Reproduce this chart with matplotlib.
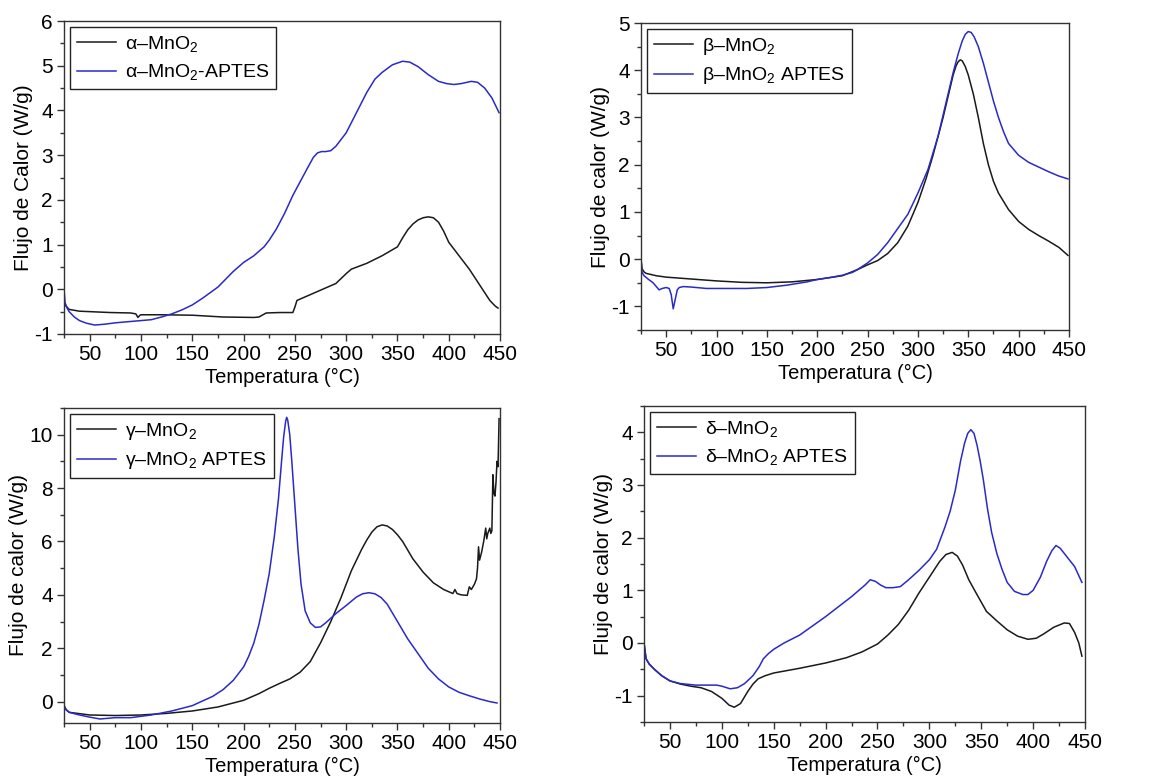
"""
DSC de MnO2 (alfa, beta, gamma, delta) con y sin APTES
"""
import matplotlib
matplotlib.use('Agg')
import matplotlib.pyplot as plt
from matplotlib.ticker import MultipleLocator

plt.rcParams['font.family'] = ['Liberation Sans', 'DejaVu Sans']
plt.rcParams['axes.unicode_minus'] = False
plt.rcParams['mathtext.fontset'] = 'custom'
plt.rcParams['mathtext.rm'] = 'Liberation Sans'
plt.rcParams['mathtext.it'] = 'Liberation Sans:italic'

NEGRO, AZUL = '#1a1a1a', '#2a2ac8'

# ---- alfa ----
alfa_x = [25, 27, 30, 40, 50, 70, 90, 95, 97, 99, 100, 120, 150, 180, 210, 215, 222, 235, 248,
          250, 252, 260, 270, 280, 290, 300, 305, 320, 335, 350, 355, 360, 365, 370, 375, 380,
          385, 390, 395, 400, 410, 420, 430, 440, 445, 448]
alfa_y = [-0.3, -0.38, -0.45, -0.49, -0.5, -0.52, -0.53, -0.55, -0.63, -0.58, -0.57, -0.57,
          -0.58, -0.62, -0.63, -0.62, -0.53, -0.52, -0.52, -0.4, -0.25, -0.17, -0.07, 0.03,
          0.13, 0.35, 0.45, 0.58, 0.75, 0.95, 1.15, 1.33, 1.46, 1.55, 1.6, 1.62, 1.6, 1.5,
          1.3, 1.05, 0.75, 0.45, 0.1, -0.25, -0.37, -0.42]
alfa_ap_x = [25, 26, 28, 30, 35, 40, 47, 55, 65, 75, 90, 100, 110, 120, 130, 140, 150, 160,
             175, 190, 200, 210, 220, 225, 232, 240, 248, 255, 262, 268, 272, 276, 280, 285,
             290, 300, 310, 320, 328, 335, 345, 355, 362, 370, 380, 390, 398, 405, 412, 422,
             428, 435, 442, 449]
alfa_ap_y = [0.0, -0.3, -0.42, -0.5, -0.62, -0.7, -0.76, -0.8, -0.78, -0.75, -0.72, -0.7,
             -0.68, -0.62, -0.55, -0.46, -0.35, -0.2, 0.05, 0.4, 0.6, 0.75, 0.95, 1.1, 1.35,
             1.7, 2.1, 2.4, 2.7, 2.95, 3.05, 3.08, 3.08, 3.1, 3.2, 3.5, 3.95, 4.4, 4.7, 4.85,
             5.02, 5.1, 5.08, 4.98, 4.8, 4.65, 4.6, 4.58, 4.6, 4.65, 4.63, 4.5, 4.28, 3.95]

# ---- beta ----
beta_x = [25, 26, 28, 30, 40, 50, 75, 100, 125, 150, 175, 200, 225, 240, 250, 260, 270, 280,
          290, 300, 308, 315, 320, 325, 330, 335, 338, 340, 342, 344, 347, 350, 355, 360, 365,
          370, 375, 380, 390, 400, 410, 420, 430, 440, 449]
beta_y = [0.0, -0.2, -0.27, -0.3, -0.35, -0.38, -0.42, -0.46, -0.49, -0.5, -0.48, -0.43,
          -0.35, -0.22, -0.12, -0.03, 0.12, 0.35, 0.7, 1.2, 1.7, 2.2, 2.6, 3.0, 3.45, 3.9,
          4.1, 4.18, 4.22, 4.2, 4.08, 3.9, 3.5, 3.0, 2.45, 2.0, 1.65, 1.4, 1.05, 0.8, 0.63,
          0.5, 0.38, 0.25, 0.08]
beta_ap_x = [25, 26, 28, 32, 37, 41, 43, 46, 50, 53, 55, 57, 59, 61, 63, 67, 75, 90, 110,
             130, 150, 170, 190, 200, 215, 225, 235, 240, 250, 260, 270, 280, 290, 300, 310,
             320, 330, 335, 340, 344, 347, 350, 353, 356, 360, 365, 370, 375, 380, 385, 390,
             400, 410, 420, 430, 440, 449]
beta_ap_y = [0.0, -0.28, -0.35, -0.42, -0.5, -0.6, -0.65, -0.62, -0.6, -0.62, -0.75, -1.05,
             -0.85, -0.65, -0.6, -0.58, -0.59, -0.62, -0.62, -0.62, -0.6, -0.55, -0.48, -0.43,
             -0.38, -0.34, -0.28, -0.22, -0.08, 0.1, 0.35, 0.65, 0.95, 1.4, 1.9, 2.6, 3.5, 3.95,
             4.35, 4.62, 4.76, 4.82, 4.8, 4.7, 4.5, 4.15, 3.75, 3.35, 3.0, 2.7, 2.45, 2.2, 2.05,
             1.95, 1.85, 1.76, 1.7]

# ---- gamma ----
gamma_x = [25, 27, 30, 40, 50, 75, 100, 125, 150, 175, 200, 215, 225, 235, 245, 255, 265,
           275, 285, 295, 305, 315, 320, 325, 330, 335, 340, 345, 350, 355, 365, 375, 385,
           395, 404, 406, 408, 412, 418, 420, 422, 425, 427, 428, 429, 430, 432, 434, 436,
           437, 438, 440, 441, 442, 443, 444, 445, 446, 447, 448, 449]
gamma_y = [-0.15, -0.3, -0.4, -0.45, -0.5, -0.52, -0.5, -0.44, -0.35, -0.2, 0.05, 0.3, 0.5,
           0.68, 0.85, 1.1, 1.5, 2.2, 3.0, 3.9, 4.9, 5.7, 6.05, 6.35, 6.55, 6.62, 6.58, 6.45,
           6.25, 6.0, 5.35, 4.85, 4.45, 4.2, 4.05, 4.2, 4.05, 4.0, 3.98, 4.3, 4.2, 4.4, 4.6,
           5.0, 5.8, 5.3, 5.6, 6.0, 6.5, 6.1, 6.3, 6.5, 6.3, 6.4, 8.5, 7.8, 7.7, 8.2, 9.0, 8.8,
           10.6]
gamma_ap_x = [25, 27, 30, 40, 50, 60, 75, 90, 110, 130, 150, 170, 180, 190, 200, 205, 210,
              215, 220, 225, 230, 234, 237, 239, 241, 242, 243, 245, 247, 249, 251, 253, 256,
              260, 265, 270, 275, 280, 290, 300, 310, 316, 322, 328, 334, 340, 350, 360, 370,
              380, 390, 400, 410, 420, 430, 440, 447]
gamma_ap_y = [-0.15, -0.3, -0.4, -0.5, -0.58, -0.65, -0.6, -0.6, -0.5, -0.35, -0.15, 0.2,
              0.45, 0.8, 1.3, 1.7, 2.2, 2.9, 3.8, 4.8, 6.2, 7.6, 9.0, 9.9, 10.5, 10.65, 10.55,
              10.0, 9.0, 7.9, 6.8, 5.7, 4.4, 3.4, 2.95, 2.78, 2.8, 2.95, 3.3, 3.6, 3.92, 4.04,
              4.08, 4.04, 3.9, 3.65, 3.0, 2.35, 1.8, 1.25, 0.85, 0.55, 0.35, 0.22, 0.1, 0.0,
              -0.05]

# ---- delta ----
delta_x = [25, 27, 30, 35, 42, 50, 60, 70, 80, 90, 100, 107, 112, 118, 125, 130, 135, 142,
           150, 175, 200, 220, 235, 250, 260, 270, 280, 290, 300, 310, 316, 322, 327, 332,
           338, 345, 355, 365, 375, 385, 395, 403, 410, 420, 430, 435, 440, 444, 447]
delta_y = [0.0, -0.3, -0.4, -0.5, -0.62, -0.72, -0.78, -0.82, -0.85, -0.92, -1.05, -1.18,
           -1.22, -1.15, -0.92, -0.78, -0.68, -0.62, -0.57, -0.48, -0.38, -0.28, -0.17, -0.02,
           0.15, 0.35, 0.62, 0.95, 1.25, 1.55, 1.68, 1.72, 1.65, 1.48, 1.2, 0.95, 0.6, 0.42,
           0.25, 0.13, 0.07, 0.09, 0.17, 0.3, 0.38, 0.37, 0.2, 0.0, -0.25]
delta_ap_x = [25, 27, 30, 35, 42, 50, 60, 75, 85, 95, 100, 108, 115, 122, 130, 136, 140,
              145, 150, 160, 175, 200, 225, 238, 243, 248, 253, 258, 265, 272, 280, 290, 300,
              307, 315, 320, 325, 330, 334, 337, 340, 343, 346, 349, 352, 356, 360, 365, 370,
              375, 382, 390, 395, 400, 407, 413, 418, 422, 426, 432, 440, 447]
delta_ap_y = [0.0, -0.3, -0.4, -0.5, -0.62, -0.72, -0.77, -0.8, -0.8, -0.8, -0.82, -0.87,
              -0.85, -0.77, -0.62, -0.45, -0.3, -0.2, -0.12, 0.0, 0.15, 0.5, 0.88, 1.1, 1.2,
              1.17, 1.1, 1.05, 1.05, 1.07, 1.2, 1.38, 1.58, 1.78, 2.2, 2.5, 2.9, 3.45, 3.8, 3.98,
              4.05, 3.98, 3.75, 3.45, 3.1, 2.55, 2.1, 1.7, 1.4, 1.15, 0.98, 0.92, 0.92, 1.0,
              1.25, 1.55, 1.75, 1.85, 1.8, 1.65, 1.45, 1.15]

paneles = [
    # (pos, x1, y1, x2, y2, etiqueta1, etiqueta2, ylabel, ylim, major, minor)
    ([0.0554, 0.5707, 0.3772, 0.4023], alfa_x, alfa_y, alfa_ap_x, alfa_ap_y,
     'α–MnO$_2$', 'α–MnO$_2$-APTES', 'Flujo de Calor (W/g)', (-1, 6), 1, 0.5),
    ([0.5545, 0.5758, 0.3702, 0.3946], beta_x, beta_y, beta_ap_x, beta_ap_y,
     'β–MnO$_2$', 'β–MnO$_2$ APTES', 'Flujo de calor (W/g)', (-1.5, 5), 1, 0.5),
    ([0.0554, 0.0707, 0.3772, 0.4049], gamma_x, gamma_y, gamma_ap_x, gamma_ap_y,
     'γ–MnO$_2$', 'γ–MnO$_2$ APTES', 'Flujo de calor (W/g)', (-0.8, 11), 2, 1),
    ([0.5571, 0.0720, 0.3815, 0.4062], delta_x, delta_y, delta_ap_x, delta_ap_y,
     'δ–MnO$_2$', 'δ–MnO$_2$ APTES', 'Flujo de calor (W/g)', (-1.5, 4.5), 1, 0.5),
]

fig = plt.figure(figsize=(11.56, 7.78), dpi=100, facecolor='white')

for pos, x1, y1, x2, y2, lab1, lab2, ylab, ylim, mayor, menor in paneles:
    ax = fig.add_axes(pos)
    ax.plot(x1, y1, color=NEGRO, linewidth=1.1, label=lab1)
    ax.plot(x2, y2, color=AZUL, linewidth=1.1, label=lab2)
    ax.set_xlim(25, 450)
    ax.set_ylim(*ylim)
    ax.xaxis.set_major_locator(MultipleLocator(50))
    ax.xaxis.set_minor_locator(MultipleLocator(25))
    ax.yaxis.set_major_locator(MultipleLocator(mayor))
    ax.yaxis.set_minor_locator(MultipleLocator(menor))
    ax.tick_params(which='major', direction='out', length=5, width=1, labelsize=15,
                   color='#333333', pad=3)
    ax.tick_params(which='minor', direction='out', length=3, width=1, color='#333333')
    for sp in ax.spines.values():
        sp.set_color('#333333')
        sp.set_linewidth(1.0)
    ax.set_xlabel('Temperatura (°C)', fontsize=14.5, labelpad=3)
    ax.set_ylabel(ylab, fontsize=15, labelpad=1)
    leg = ax.legend(loc='upper left', fontsize=14, frameon=True, fancybox=False,
                    edgecolor='#222222', framealpha=1, handlelength=2.0,
                    borderaxespad=0.3, borderpad=0.35, labelspacing=0.45,
                    handletextpad=0.5)
    leg.get_frame().set_linewidth(1.0)

fig.savefig('out.png', dpi=100, facecolor='white')
